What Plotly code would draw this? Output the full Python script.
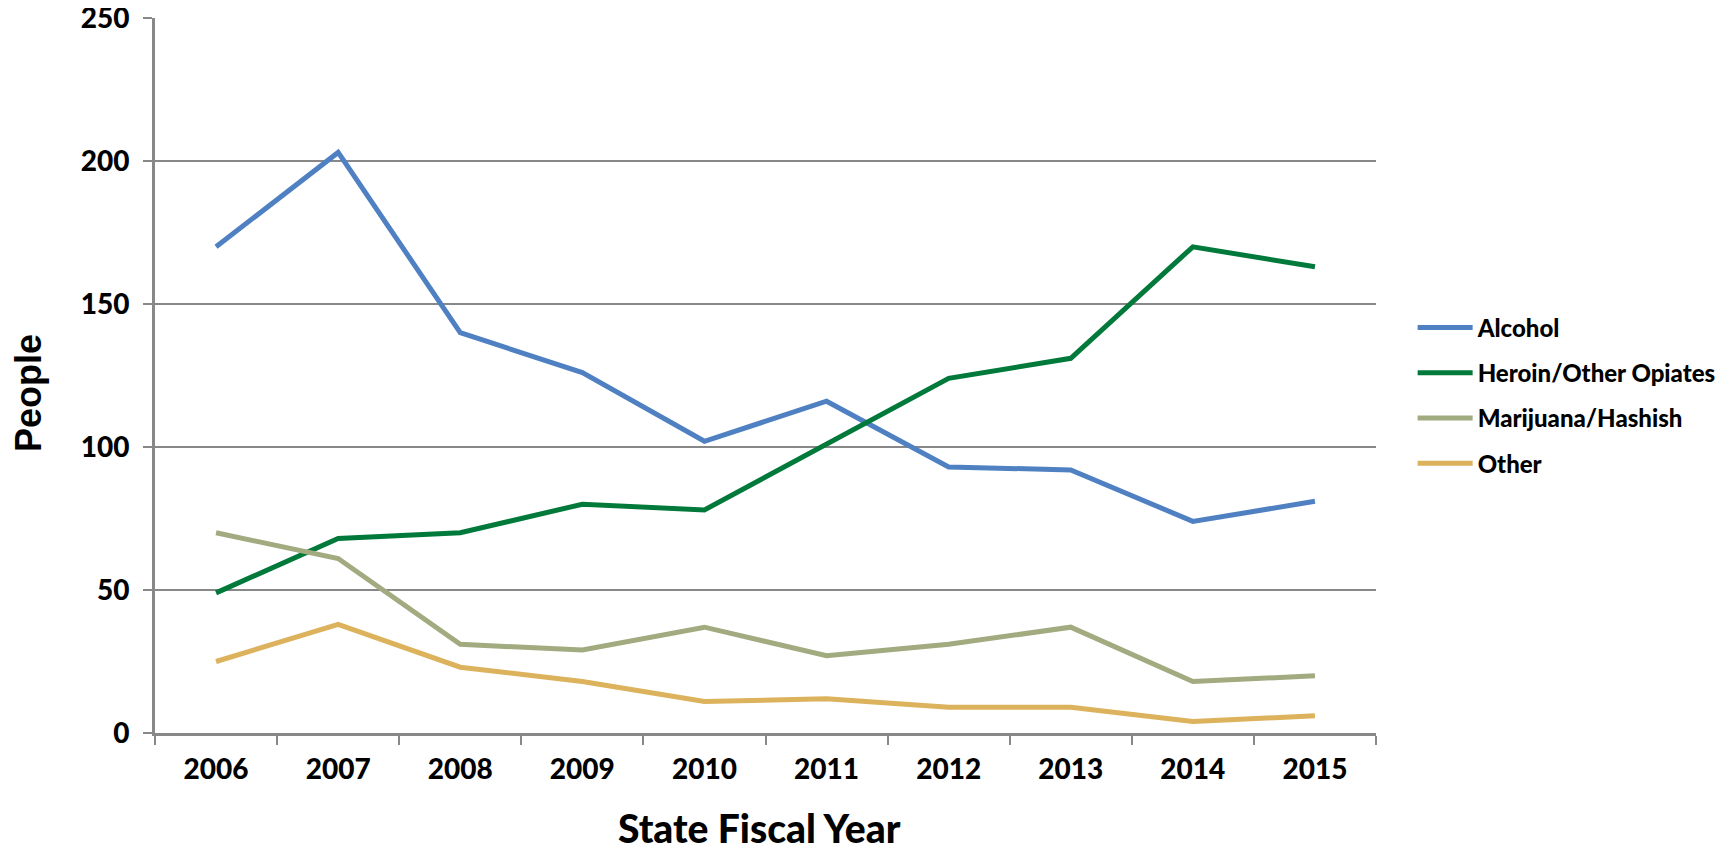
import plotly.graph_objects as go

years = ["2006", "2007", "2008", "2009", "2010", "2011", "2012", "2013", "2014", "2015"]
alcohol = [170, 203, 140, 126, 102, 116, 93, 92, 74, 81]
heroin = [49, 68, 70, 80, 78, 101, 124, 131, 170, 163]
marijuana = [70, 61, 31, 29, 37, 27, 31, 37, 18, 20]
other = [25, 38, 23, 18, 11, 12, 9, 9, 4, 6]

series = [
    ("Alcohol", alcohol, "#4F81C2"),
    ("Heroin/Other Opiates", heroin, "#00793A"),
    ("Marijuana/Hashish", marijuana, "#A2AA80"),
    ("Other", other, "#DCB25C"),
]

FONT = "Lato"
W = 900
fig = go.Figure()
for name, vals, col in series:
    fig.add_trace(go.Scatter(x=years, y=vals, name=name, mode="lines",
                             legendgroup=name,
                             line=dict(color=col, width=5)))

fig.update_layout(
    width=1723, height=846,
    margin=dict(l=147, r=355, t=10, b=121),
    plot_bgcolor="white", paper_bgcolor="white",
    font=dict(family=FONT, color="black", size=26, weight=W),
    showlegend=True,
    legend=dict(x=1.03, y=0.472, xanchor="left", yanchor="middle",
                font=dict(family=FONT, size=24, weight=W),
                itemwidth=55, tracegroupgap=11),
    xaxis=dict(type="category", range=[-0.5, 9.5], tickson="boundaries",
               ticks="outside", ticklen=9, tickwidth=2, tickcolor="#888888",
               showline=True, linecolor="#888888", linewidth=3,
               showgrid=False, zeroline=False, automargin=False,
               ticklabelstandoff=9, ticklabeloverflow="allow",
               tickfont=dict(family=FONT, size=28, weight=W)),
    yaxis=dict(range=[0, 250], dtick=50, ticks="outside", ticklen=9,
               tickwidth=2, tickcolor="#888888",
               showline=True, linecolor="#888888", linewidth=3,
               showgrid=True, gridcolor="#888888", gridwidth=2,
               zeroline=False, automargin=False,
               ticklabelstandoff=8, ticklabeloverflow="allow",
               tickfont=dict(family=FONT, size=28, weight=W)),
    annotations=[
        dict(text="People", xref="paper", yref="paper", x=-0.104, y=0.4755,
             xanchor="center", yanchor="middle", textangle=-90, showarrow=False,
             font=dict(family="Liberation Sans", size=36, weight="bold", color="black")),
        dict(text="State Fiscal Year", xref="paper", yref="paper", x=0.4947, y=-0.1685,
             xanchor="center", yanchor="bottom", showarrow=False,
             font=dict(family=FONT, size=39, weight=W, color="black")),
    ],
)

fig.write_html("out.html")
